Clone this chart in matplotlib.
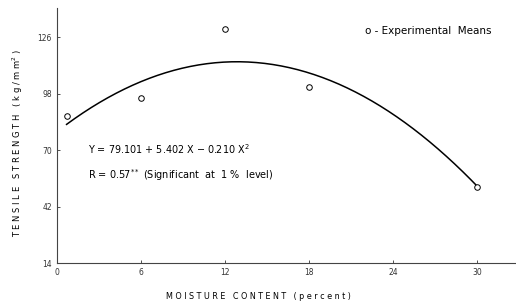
import numpy as np
import matplotlib
matplotlib.use('Agg')
import matplotlib.pyplot as plt

# experimental means
moisture = [0.7, 6, 12, 18, 30]
strength = [87, 96, 130, 101.5, 51.5]

# fitted curve Y = 79.101 + 5.402 X - 0.210 X^2 (coefficients printed on the chart)
coef = [-0.210, 5.402, 79.101]
fit_range = [0.7, 30]

xticks = [0, 6, 12, 18, 24, 30]
yticks = [14, 42, 70, 98, 126]


def spaced(s):
    # old lettering-guide look: wide letter spacing
    return ' '.join(s)


plt.rcParams['font.family'] = 'DejaVu Sans'

fig = plt.figure(figsize=(5.16, 3.07), dpi=100)
ax = fig.add_axes([0.110, 0.143, 0.888, 0.831])

xs = np.linspace(fit_range[0], fit_range[1], 200)
ax.plot(xs, np.polyval(coef, xs), color='black', lw=1.1)
ax.plot(moisture, strength, 'o', mfc='white', mec='black', ms=4, mew=0.7)

ax.set_xlim(0, 32.7)
ax.set_ylim(14, 140.5)
ax.set_xticks(xticks)
ax.set_yticks(yticks)
ax.tick_params(labelsize=5.5, length=2, width=0.6, direction='in', colors='#333333')
for s in ['top', 'right']:
    ax.spines[s].set_visible(False)
for s in ['left', 'bottom']:
    ax.spines[s].set_linewidth(0.8)
    ax.spines[s].set_color('#444444')

ax.set_xlabel(spaced('MOISTURE') + '   ' + spaced('CONTENT') + '   ( p e r c e n t )',
              fontsize=5.8)
ax.xaxis.set_label_coords(0.44, -0.115)
ax.set_ylabel(spaced('TENSILE') + '   ' + spaced('STRENGTH') + '   ( k g / m m$^2$ )',
              fontsize=6.0)
ax.yaxis.set_label_coords(-0.07, 0.47)

ax.text(2.2, 70.5, 'Y = 79.101 + 5.402 X − 0.210 X$^2$', fontsize=6.9, va='center')
ax.text(2.2, 57.5, 'R = 0.57$^{**}$ (Significant  at  1 %  level)', fontsize=7.0, va='center')
ax.text(22.0, 129, 'o - Experimental  Means', fontsize=7.5, va='center')

fig.savefig('out.png', dpi=100)
